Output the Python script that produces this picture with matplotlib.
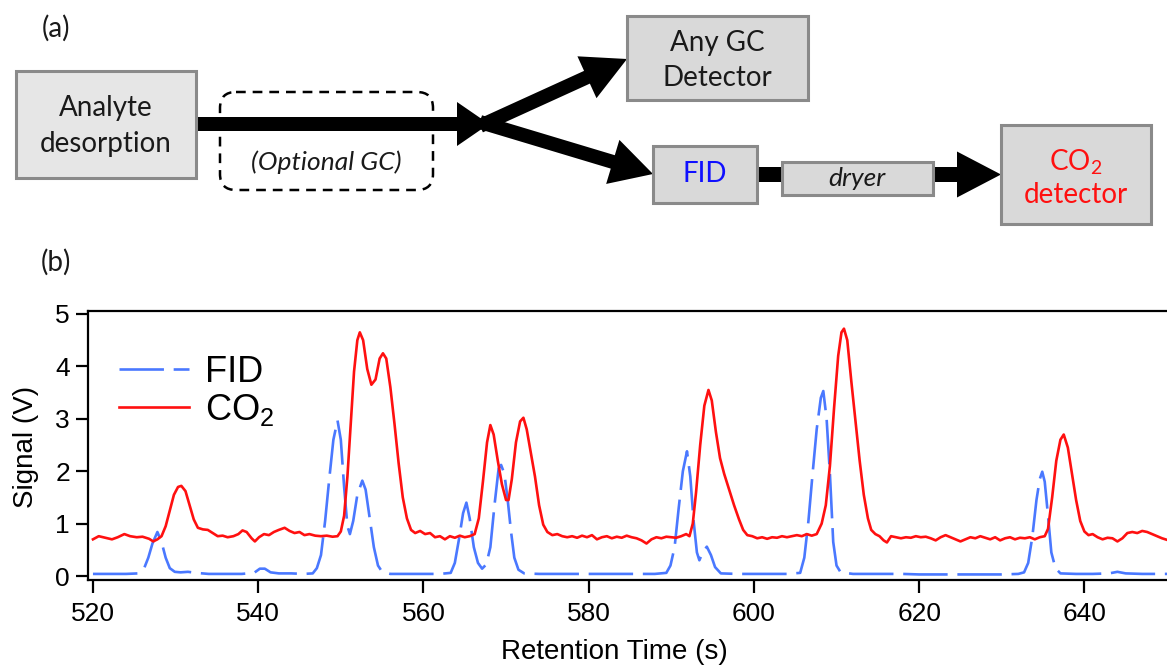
import matplotlib
matplotlib.use('Agg')
import matplotlib.pyplot as plt
import numpy as np
from matplotlib.patches import Rectangle, FancyBboxPatch, FancyArrow

plt.rcParams['lines.scale_dashes'] = False
plt.rcParams['mathtext.default'] = 'regular'
plt.rcParams['font.family'] = ['Liberation Sans', 'DejaVu Sans']

# CO2 detector trace (s, V)
co2_t = [520.0, 520.7, 521.5, 522.3, 523.0, 523.8, 524.5, 525.3, 526.0, 526.8,
         527.3, 527.8, 528.3, 528.8, 529.3, 529.8, 530.3, 530.7, 531.2, 531.7,
         532.2, 532.7, 533.3, 533.9, 534.5, 535.1, 535.7, 536.3, 537.0, 537.6,
         538.1, 538.6, 539.2, 539.6, 540.1, 540.7, 541.3, 541.9, 542.5, 543.2,
         543.8, 544.4, 545.0, 545.6, 546.2, 546.9, 547.6, 548.3, 549.0, 549.6,
         550.0, 550.4, 550.8, 551.2, 551.6, 552.0, 552.3, 552.7, 553.2, 553.7,
         554.2, 554.7, 555.1, 555.5, 556.0, 556.5, 557.0, 557.5, 558.0, 558.5,
         559.0, 559.6, 560.2, 560.8, 561.4, 562.0, 562.6, 563.2, 563.8, 564.4,
         565.0, 565.6, 566.2, 566.7, 567.2, 567.7, 568.1, 568.5, 569.0, 569.5,
         570.0, 570.3, 570.7, 571.2, 571.7, 572.1, 572.5, 573.0, 573.5, 574.0,
         574.5, 575.0, 575.6, 576.2, 576.8, 577.4, 578.0, 578.6, 579.2, 579.8,
         580.4, 581.0, 581.6, 582.2, 582.8, 583.4, 584.0, 584.6, 585.2, 585.8,
         586.4, 587.0, 587.6, 588.2, 588.8, 589.4, 590.0, 590.6, 591.2, 591.8,
         592.2, 592.6, 593.0, 593.5, 594.0, 594.5, 594.9, 595.4, 595.9, 596.4,
         597.0, 597.6, 598.2, 598.7, 599.2, 599.8, 600.4, 601.0, 601.6, 602.2,
         602.8, 603.4, 604.0, 604.6, 605.2, 605.8, 606.4, 607.0, 607.6, 608.2,
         608.7, 609.2, 609.7, 610.2, 610.6, 610.9, 611.3, 611.8, 612.3, 612.8,
         613.3, 613.8, 614.2, 614.7, 615.2, 615.7, 616.1, 616.6, 617.2, 617.8,
         618.4, 619.0, 619.6, 620.2, 620.8, 621.4, 622.0, 622.6, 623.2, 623.8,
         624.4, 625.0, 625.6, 626.2, 626.8, 627.4, 628.0, 628.6, 629.2, 629.8,
         630.4, 631.0, 631.6, 632.2, 632.8, 633.4, 634.0, 634.6, 635.2, 635.6,
         636.1, 636.6, 637.1, 637.5, 638.0, 638.5, 639.0, 639.5, 640.0, 640.5,
         641.0, 641.6, 642.2, 642.8, 643.4, 644.0, 644.6, 645.2, 645.8, 646.4,
         647.0, 647.6, 648.2, 648.8, 649.4, 650.0]
co2_v = [0.70, 0.76, 0.73, 0.70, 0.74, 0.80, 0.76, 0.74, 0.75, 0.71,
         0.66, 0.70, 0.76, 0.95, 1.25, 1.55, 1.70, 1.72, 1.62, 1.35,
         1.08, 0.92, 0.89, 0.88, 0.82, 0.76, 0.77, 0.74, 0.76, 0.80,
         0.87, 0.84, 0.72, 0.66, 0.74, 0.80, 0.78, 0.84, 0.88, 0.92,
         0.86, 0.82, 0.84, 0.78, 0.80, 0.77, 0.76, 0.77, 0.75, 0.76,
         0.85, 1.15, 1.90, 2.90, 3.90, 4.50, 4.65, 4.50, 3.95, 3.65,
         3.75, 4.15, 4.25, 4.15, 3.60, 2.90, 2.15, 1.50, 1.10, 0.88,
         0.82, 0.86, 0.80, 0.82, 0.74, 0.76, 0.70, 0.76, 0.73, 0.77,
         0.74, 0.76, 0.80, 1.10, 1.80, 2.55, 2.88, 2.70, 2.20, 1.75,
         1.45, 1.45, 1.85, 2.55, 2.95, 3.02, 2.80, 2.35, 1.90, 1.35,
         0.98, 0.84, 0.78, 0.80, 0.76, 0.74, 0.76, 0.73, 0.77, 0.74,
         0.78, 0.70, 0.74, 0.76, 0.72, 0.75, 0.73, 0.77, 0.74, 0.72,
         0.68, 0.62, 0.70, 0.74, 0.72, 0.75, 0.74, 0.73, 0.76, 0.80,
         0.76, 1.00, 1.60, 2.50, 3.25, 3.55, 3.35, 2.75, 2.25, 1.95,
         1.65, 1.35, 1.08, 0.88, 0.78, 0.76, 0.72, 0.74, 0.71, 0.74,
         0.73, 0.76, 0.74, 0.76, 0.78, 0.76, 0.80, 0.77, 0.80, 1.00,
         1.35, 2.10, 3.20, 4.20, 4.65, 4.72, 4.50, 3.70, 2.95, 2.20,
         1.55, 1.10, 0.88, 0.80, 0.76, 0.68, 0.64, 0.76, 0.74, 0.72,
         0.74, 0.73, 0.76, 0.74, 0.75, 0.72, 0.68, 0.74, 0.78, 0.74,
         0.70, 0.66, 0.70, 0.74, 0.72, 0.76, 0.73, 0.70, 0.74, 0.68,
         0.72, 0.74, 0.70, 0.73, 0.72, 0.74, 0.70, 0.74, 0.76, 0.90,
         1.50, 2.20, 2.60, 2.70, 2.45, 1.95, 1.45, 1.05, 0.85, 0.78,
         0.80, 0.74, 0.70, 0.73, 0.72, 0.66, 0.72, 0.82, 0.84, 0.82,
         0.86, 0.84, 0.80, 0.76, 0.72, 0.69]

# FID trace (s, V)
fid_t = [520.0, 522.0, 524.0, 525.5, 526.2, 526.7, 527.2, 527.8, 528.3, 528.8,
         529.3, 529.9, 530.6, 531.5, 532.5, 534.0, 536.0, 538.0, 539.5, 540.2,
         540.8, 541.5, 542.5, 544.0, 545.5, 546.6, 547.1, 547.6, 548.1, 548.6,
         549.1, 549.6, 550.0, 550.4, 550.8, 551.1, 551.5, 552.0, 552.6, 553.0,
         553.5, 554.0, 554.5, 555.0, 556.0, 558.0, 560.0, 562.0, 563.3, 563.8,
         564.3, 564.8, 565.2, 565.6, 566.1, 566.6, 567.1, 567.6, 568.1, 568.6,
         569.1, 569.4, 569.8, 570.2, 570.6, 571.0, 571.5, 572.2, 574.0, 576.0,
         578.0, 580.0, 582.0, 584.0, 586.0, 588.0, 589.4, 589.9, 590.4, 590.9,
         591.4, 591.9, 592.3, 592.7, 593.1, 593.4, 593.8, 594.3, 594.8, 595.3,
         596.0, 598.0, 600.0, 602.0, 604.0, 605.6, 606.1, 606.6, 607.1, 607.6,
         608.1, 608.4, 608.8, 609.2, 609.6, 610.0, 610.5, 612.0, 614.0, 616.0,
         618.0, 620.0, 622.0, 624.0, 626.0, 628.0, 630.0, 632.0, 632.7, 633.2,
         633.7, 634.2, 634.6, 634.9, 635.2, 635.6, 636.0, 636.5, 637.1, 639.0,
         641.0, 643.0, 644.0, 645.0, 647.0, 650.0]
fid_v = [0.04, 0.04, 0.04, 0.05, 0.15, 0.35, 0.62, 0.84, 0.65, 0.35,
         0.15, 0.08, 0.07, 0.08, 0.06, 0.04, 0.04, 0.04, 0.06, 0.14,
         0.14, 0.07, 0.05, 0.05, 0.04, 0.05, 0.15, 0.40, 1.05, 1.85,
         2.60, 2.97, 2.60, 1.70, 0.95, 0.80, 1.05, 1.55, 1.82, 1.65,
         1.10, 0.55, 0.20, 0.08, 0.04, 0.04, 0.04, 0.04, 0.06, 0.25,
         0.70, 1.20, 1.40, 1.10, 0.55, 0.25, 0.14, 0.22, 0.55, 1.35,
         2.05, 2.12, 1.95, 1.45, 0.85, 0.35, 0.12, 0.05, 0.04, 0.04,
         0.04, 0.04, 0.04, 0.04, 0.04, 0.04, 0.06, 0.20, 0.55, 1.30,
         2.00, 2.38, 1.90, 1.05, 0.45, 0.30, 0.45, 0.56, 0.40, 0.17,
         0.05, 0.04, 0.04, 0.04, 0.04, 0.06, 0.35, 1.05, 1.95, 2.80,
         3.40, 3.53, 3.00, 1.95, 0.65, 0.20, 0.07, 0.04, 0.04, 0.04,
         0.04, 0.03, 0.03, 0.03, 0.03, 0.03, 0.03, 0.04, 0.07, 0.25,
         0.75, 1.45, 1.85, 1.99, 1.80, 1.15, 0.45, 0.15, 0.05, 0.04,
         0.04, 0.05, 0.08, 0.05, 0.04, 0.04]

x_ticks = [520, 540, 560, 580, 600, 620, 640]
y_ticks = [0, 1, 2, 3, 4, 5]

RED = '#ff1010'
BLUE = '#4a78ff'
DIAG_FONT = ['Lato', 'DejaVu Sans']

fig = plt.figure(figsize=(11.67, 6.68), dpi=100)

# ---- (a) flow diagram, drawn in pixel coordinates
dg = fig.add_axes([0, 0, 1, 1])
dg.set_xlim(0, 1167)
dg.set_ylim(668, 0)
dg.axis('off')


def box(x0, x1, y0, y1, fc='#d9d9d9'):
    dg.add_patch(Rectangle((x0, y0), x1 - x0, y1 - y0, fc=fc, ec='#8a8a8a', lw=2.2, zorder=3))


def label(x, y, s, color='#1a1a1a', style='normal', size=20):
    dg.text(x, y, s, ha='center', va='center', color=color, style=style,
            fontsize=size, family=DIAG_FONT, zorder=5)


def arrow(x0, y0, x1, y1, w=14, hw=45, hl=40):
    dg.add_patch(FancyArrow(x0, y0, x1 - x0, y1 - y0, width=w, head_width=hw,
                            head_length=hl, length_includes_head=True,
                            fc='black', ec='black', lw=0, zorder=2))


label(56, 28, '(a)')
label(56, 262, '(b)')

dg.add_patch(FancyBboxPatch((220, 92), 213, 98, boxstyle='round,pad=0,rounding_size=16',
                            fc='none', ec='black', lw=1.8, ls=(0, (7, 5)), zorder=1))
label(326, 162, '(Optional GC)', style='italic', size=19)

box(16, 196, 71, 178, fc='#e6e6e6')
label(106, 108, 'Analyte')
label(106, 144, 'desorption')

arrow(196, 124, 489, 124, hw=44, hl=32)
arrow(480, 126, 627, 59, hw=46, hl=44)
arrow(480, 122, 653, 174, hw=46, hl=42)

box(627, 808, 16, 100)
label(717, 43, 'Any GC')
label(717, 78, 'Detector')

box(653, 757, 146, 203)
label(705, 174, 'FID', color='#1010ff')

dg.add_patch(Rectangle((757, 167), 26, 15, fc='black', ec='none', zorder=2))
box(782, 933, 162, 195)
label(857, 178, 'dryer', style='italic', size=19)

arrow(932, 174.5, 1001, 174.5, w=15, hw=46, hl=44)

box(1001, 1151, 125, 224)
label(1076, 162, 'CO$_2$', color=RED)
label(1076, 195, 'detector', color=RED)

# ---- (b) chromatogram
ax = fig.add_axes([88 / 1167, 88 / 668, (1167 - 88) / 1167, 269 / 668])
ax.plot(fid_t, fid_v, color=BLUE, lw=1.9, dashes=(32, 7), label='FID',
        solid_joinstyle='round', dash_joinstyle='round')
ax.plot(co2_t, co2_v, color=RED, lw=1.9, label='CO$_2$', solid_joinstyle='round')

ax.set_xlim(519.4, 650)
ax.set_ylim(-0.076, 5.057)
ax.set_xticks(x_ticks)
ax.set_yticks(y_ticks)
for s in ['left', 'bottom', 'top']:
    ax.spines[s].set_linewidth(1.6)
ax.spines['right'].set_visible(False)
ax.tick_params(direction='out', length=9, width=1.6, labelsize=19, pad=4)
ax.tick_params(axis='x', pad=7)
ax.set_xlabel('Retention Time (s)', fontsize=20)
ax.set_ylabel('Signal (V)', fontsize=20)
ax.xaxis.set_label_coords(0.488, -0.22)
ax.yaxis.set_label_coords(-0.045, 0.495)

ax.legend(loc='upper left', bbox_to_anchor=(0.005, 0.93), frameon=False, fontsize=26,
          handlelength=1.95, handletextpad=0.45, labelspacing=0.05, borderpad=0.2)

fig.savefig('out.png', dpi=100)
